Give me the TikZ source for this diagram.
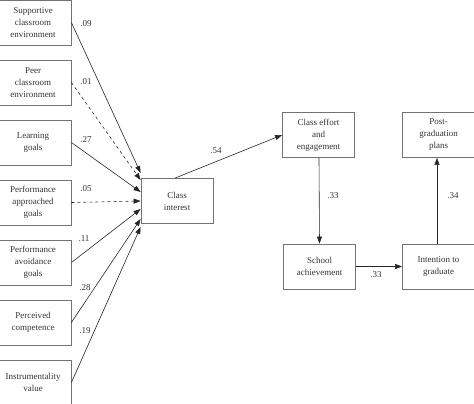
\documentclass[tikz,border=0pt]{standalone}
\usepackage{fontspec}
\setmainfont{Liberation Serif}
\usetikzlibrary{arrows.meta}
\begin{document}
\begin{tikzpicture}[x=1pt,y=-1pt]
    \tikzstyle{var}=[rectangle, draw=black!55, line width=0.8pt, minimum width=72pt, minimum height=45pt,
                     align=center, inner sep=1pt, font=\fontsize{9}{12}\selectfont, text=black!80]
    \tikzstyle{path}=[draw=black!85, line width=0.6pt, -{Triangle[length=7pt,width=5pt]}]
    \tikzstyle{coef}=[font=\fontsize{9}{11}\selectfont, text=black!80]
    \useasboundingbox (0,0) rectangle (474,404);

    % predictors
    \node[var, minimum width=76pt] (sup)   at (33,22.5)  {Supportive\\classroom\\environment};
    \node[var, minimum width=76pt] (peer)  at (33,82.5)  {Peer\\classroom\\environment};
    \node[var, minimum width=76pt] (learn) at (33,142.5) {Learning\\goals};
    \node[var, minimum width=76pt] (pap)   at (33,202.5) {Performance\\approached\\goals};
    \node[var, minimum width=76pt] (pav)   at (33,262.5) {Performance\\avoidance\\goals};
    \node[var, minimum width=76pt] (comp)  at (33,322.5) {Perceived\\competence};
    \node[var, minimum width=76pt] (instr) at (33,382.5) {Instrumentality\\value};

    % outcomes
    \node[var] (ci)    at (177,201)    {Class\\interest};
    \node[var] (eff)   at (318.5,135)  {Class effort\\and\\engagement};
    \node[var] (post)  at (438.5,135)  {Post-\\graduation\\plans};
    \node[var] (ach)   at (319.5,266.5) {School\\achievement};
    \node[var] (grad)  at (438.5,266.5) {Intention to\\graduate};

    \coordinate (in1) at ([yshift=28pt]ci.west);
    \coordinate (in2) at ([yshift=21pt]ci.west);
    \coordinate (in3) at ([yshift=9pt]ci.west);
    \coordinate (in4) at (ci.west);
    \coordinate (in5) at ([yshift=-8pt]ci.west);
    \coordinate (in6) at ([yshift=-18pt]ci.west);
    \coordinate (in7) at ([yshift=-26pt]ci.west);

    \draw[path] (sup.east)   -- (in1);
    \draw[path, dashed] (peer.east)  -- (in2);
    \draw[path] (learn.east) -- (in3);
    \draw[path, dashed] (pap.east)   -- (in4);
    \draw[path] (pav.east)   -- (in5);
    \draw[path] (comp.east)  -- (in6);
    \draw[path] (instr.east) -- (in7);

    \draw[path] ([xshift=-2pt]ci.north) -- (eff.west);
    \draw[path] ([xshift=0.5pt]eff.south) -- (ach.north);
    \draw[path] (ach.east) -- (grad.west);
    \draw[path] ([xshift=-1.5pt]grad.north) -- ([xshift=-1.5pt]post.south);

    \draw[coef] (86,24)  node {.09};
    \draw[coef] (86,82)  node {.01};
    \draw[coef] (86,140) node {.27};
    \draw[coef] (86,189) node {.05};
    \draw[coef] (84,239) node {.11};
    \draw[coef] (85,288) node {.28};
    \draw[coef] (85,331) node {.19};
    \draw[coef] (216,151) node {.54};
    \draw[coef] (333,196) node {.33};
    \draw[coef] (376,275) node {.33};
    \draw[coef] (453,196) node {.34};

\end{tikzpicture}
\end{document}
